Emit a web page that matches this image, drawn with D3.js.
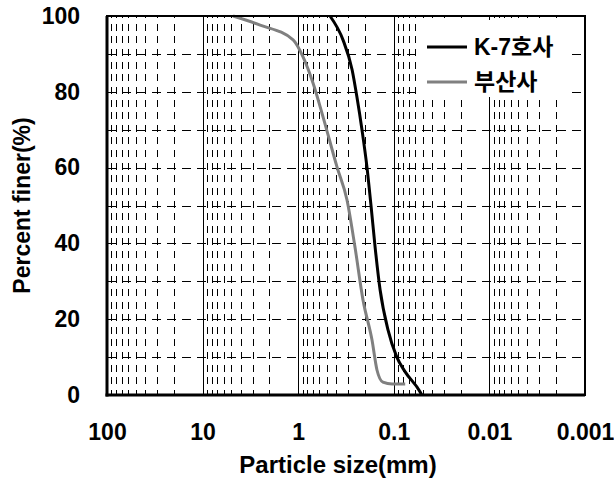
<!DOCTYPE html>
<html>
<head>
<meta charset="utf-8">
<script src="https://cdnjs.cloudflare.com/ajax/libs/d3/7.8.5/d3.min.js"></script>
<style>
    body { margin: 0; background: #fff; }
    text { font-family: "Liberation Sans", Arial, "Noto Sans CJK KR", sans-serif; font-weight: bold; fill: #000; }
    .grid line { stroke: #000; stroke-width: 1; shape-rendering: crispEdges; }
    .grid path { display: none; }
    .tick-labels path { display: none; }
</style>
</head>
<body>
<svg id="visualisation"></svg>
<script>
// data (particle size in mm, percent finer)
var sizeK7 = [0.465, 0.34, 0.273, 0.243, 0.215, 0.191, 0.173, 0.157, 0.139, 0.115, 0.093, 0.076, 0.053, 0.051];
var finerK7 = [100, 93.7, 85.8, 78.6, 69.9, 60.2, 49.9, 39.1, 27.7, 17.2, 10.0, 6.1, 0.8, 0];
var sizeBusan = [4.8, 2.5, 1.13, 0.89, 0.70, 0.55, 0.393, 0.309, 0.255, 0.21, 0.169, 0.150, 0.130, 0.104, 0.076];
var finerBusan = [100, 97.6, 93.7, 89.2, 82.3, 73.4, 60.2, 51.5, 39.1, 25.1, 14.5, 6.6, 3.4, 2.9, 2.9];
var seriesNames = ['K-7호사', '부산사'];
var seriesColors = ['#000000', '#808080'];

var xTicks = [100, 10, 1, 0.1, 0.01, 0.001];
var xTickLabels = ['100', '10', '1', '0.1', '0.01', '0.001'];
var yTicks = [0, 20, 40, 60, 80, 100];
var yGrid = [10, 20, 30, 40, 50, 60, 70, 80, 90];

var margin = {
    top: 16,
    right: 29,
    bottom: 84,
    left: 107
};
var width = 614 - margin.left - margin.right;
var height = 479 - margin.top - margin.bottom;

var svg = d3.select('#visualisation')
    .attr('width', width + margin.left + margin.right)
    .attr('height', height + margin.top + margin.bottom)
    .append('g')
    .attr('transform', `translate(${margin.left}, ${margin.top})`);

var xScale = d3.scaleLog()
    .domain([100, 0.001])
    .range([0, width]);
var yScale = d3.scaleLinear()
    .domain([0, 100])
    .range([height, 0]);

// minor positions 2..9 in every decade
var minor = [];
[10, 1, 0.1, 0.01, 0.001].forEach(d => {
    for (var k = 2; k <= 9; k++) minor.push(d * k);
});
var majorInner = [10, 1, 0.1, 0.01];

// Grid
svg.append('g')
    .attr('class', 'grid')
    .attr('transform', `translate(0, ${height})`)
    .call(d3.axisBottom(xScale).tickValues(minor).tickSize(-height).tickFormat(''))
    .selectAll('line')
    .attr('stroke-dasharray', '7,5.63')
    .attr('stroke-dashoffset', 2);

svg.append('g')
    .attr('class', 'grid')
    .attr('transform', `translate(0, ${height})`)
    .call(d3.axisBottom(xScale).tickValues(majorInner).tickSize(-height).tickFormat(''));

svg.append('g')
    .attr('class', 'grid')
    .call(d3.axisLeft(yScale).tickValues(yGrid).tickSize(-width).tickFormat(''))
    .selectAll('line')
    .attr('stroke-dasharray', '9,6');

// Legend background hides grid behind it
svg.append('rect')
    .attr('x', 310)
    .attr('y', 4)
    .attr('width', 150)
    .attr('height', 77)
    .attr('fill', '#fff');

// small ticks on bottom and left
svg.append('g')
    .attr('class', 'grid')
    .attr('transform', `translate(0, ${height})`)
    .call(d3.axisBottom(xScale).tickValues(minor.concat(majorInner)).tickSize(-5).tickFormat(''))
    .selectAll('line')
    .attr('stroke-width', 2);

svg.append('g')
    .attr('class', 'grid')
    .call(d3.axisLeft(yScale).tickValues(d3.range(0, 101, 10)).tickSize(-5).tickFormat(''))
    .selectAll('line')
    .attr('stroke-width', 2);

// Curves
var line = d3.line()
    .x(d => xScale(d[0]))
    .y(d => yScale(d[1]))
    .curve(d3.curveMonotoneX);

svg.append('path')
    .attr('d', line(d3.zip(sizeBusan, finerBusan)))
    .attr('fill', 'none')
    .attr('stroke', seriesColors[1])
    .attr('stroke-width', 3);

svg.append('path')
    .attr('d', line(d3.zip(sizeK7, finerK7)))
    .attr('fill', 'none')
    .attr('stroke', seriesColors[0])
    .attr('stroke-width', 3);

// Frame
svg.append('rect')
    .attr('width', width)
    .attr('height', height)
    .attr('fill', 'none')
    .attr('stroke', '#000')
    .attr('stroke-width', 2);
svg.append('line')
    .attr('x1', 0).attr('x2', 0)
    .attr('y1', 0).attr('y2', height + 1.5)
    .attr('stroke', '#000')
    .attr('stroke-width', 3);
svg.append('line')
    .attr('x1', -1.5).attr('x2', width)
    .attr('y1', height).attr('y2', height)
    .attr('stroke', '#000')
    .attr('stroke-width', 3);

// Tick labels
svg.append('g')
    .attr('class', 'tick-labels')
    .attr('transform', `translate(0, ${height})`)
    .call(d3.axisBottom(xScale).tickValues(xTicks).tickFormat((d, i) => xTickLabels[i]).tickSize(0).tickPadding(29))
    .selectAll('text')
    .style('font-size', '23px')
    .style('font-family', '"Liberation Sans", Arial, sans-serif');

svg.append('g')
    .attr('class', 'tick-labels')
    .call(d3.axisLeft(yScale).tickValues(yTicks).tickSize(0).tickPadding(27))
    .selectAll('text')
    .style('font-size', '23px')
    .style('font-family', '"Liberation Sans", Arial, sans-serif');

// Labels
svg.append('text')
    .attr('x', width / 2 - 8)
    .attr('y', height + 78)
    .style('text-anchor', 'middle')
    .style('font-size', '24px')
    .text('Particle size(mm)');

svg.append('text')
    .attr('transform', 'rotate(-90)')
    .attr('x', 0 - (height / 2))
    .attr('y', 30 - margin.left)
    .style('text-anchor', 'middle')
    .style('font-size', '23px')
    .text('Percent finer(%)');

// Legend
for (var i = 0; i < seriesNames.length; i++) {
    var yPos = 31 + 35 * i;
    svg.append('path')
        .attr('d', `M320,${yPos}L360,${yPos}`)
        .attr('stroke', seriesColors[i])
        .attr('stroke-width', 3);
    svg.append('text')
        .attr('x', 367)
        .attr('y', yPos)
        .attr('dy', '0.35em')
        .style('font-size', '23px')
        .text(seriesNames[i]);
}
</script>
</body>
</html>
